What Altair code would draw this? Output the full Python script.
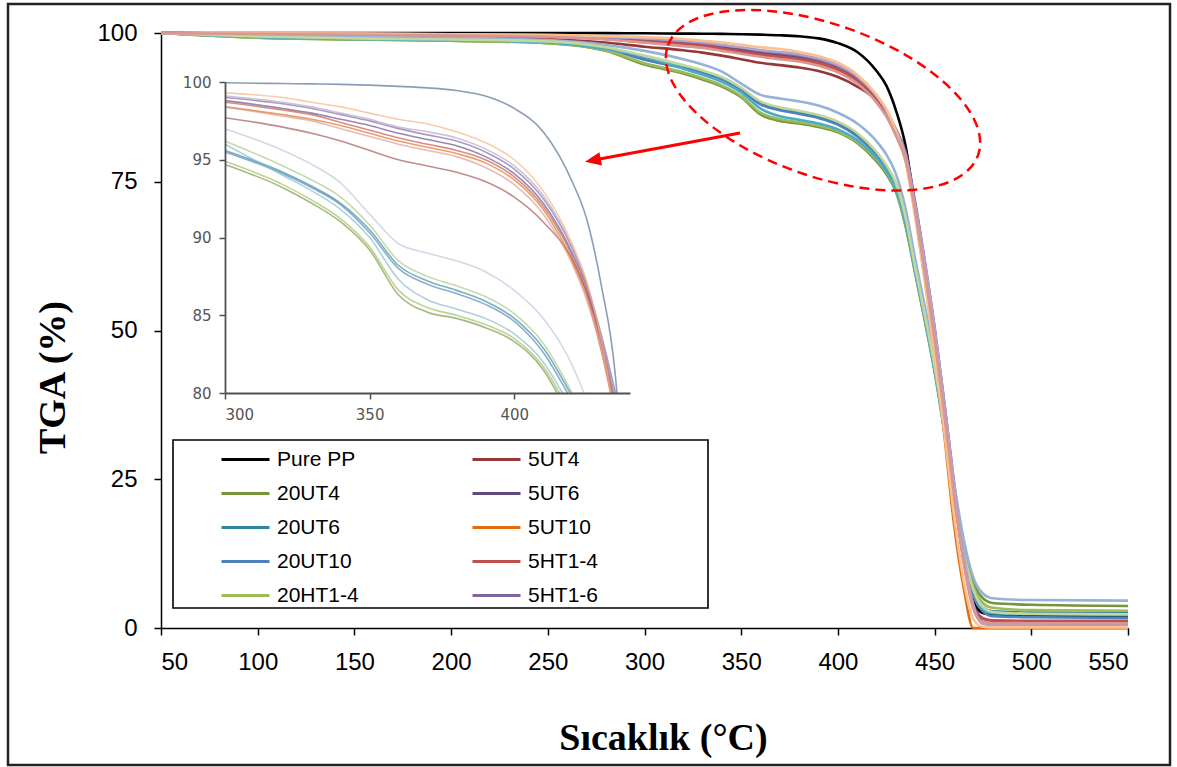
import altair as alt
import pandas as pd

# ---------------- data ----------------
temps = [50, 100, 150, 200, 250, 280, 300, 320, 330, 340, 350, 360, 370, 380, 390,
         400, 410, 420, 425, 430, 435, 440, 445, 450, 455, 460, 465, 470, 475, 480,
         500, 550]

pure_pp  = [100, 100, 100, 100, 100, 99.98, 99.95, 99.9, 99.88, 99.85, 99.8, 99.72, 99.62, 99.45, 99.1,
            98.3, 96.8, 93.6, 91.2, 87.0, 81.0, 70.5, 60.5, 49.5, 37.0, 23.5, 11.5, 4.5, 2.5, 2.2, 2.1, 2.0]
ut4_5    = [100, 99.8, 99.6, 99.4, 99.0, 98.4, 97.7, 97.1, 96.7, 96.2, 95.6, 95.0, 94.6, 94.2, 93.6,
            92.6, 91.0, 88.6, 86.5, 83.5, 79.0, 70.5, 60.5, 49.5, 37.0, 23.5, 12.0, 4.0, 1.6, 1.2, 1.1, 1.0]
ut4_20   = [100, 99.2, 98.9, 98.7, 98.3, 97.0, 94.7, 93.2, 92.2, 91.0, 89.2, 86.3, 85.2, 84.8, 84.2,
            83.3, 81.5, 78.4, 76.3, 73.3, 67.5, 59.5, 51.5, 43.0, 33.0, 22.0, 13.0, 7.6, 5.0, 4.2, 3.9, 3.7]
ut6_5    = [100, 99.9, 99.8, 99.7, 99.5, 99.2, 98.8, 98.3, 98.0, 97.6, 97.2, 96.7, 96.3, 95.9, 95.2,
            94.1, 92.2, 89.0, 86.8, 83.5, 79.5, 71.0, 61.0, 50.0, 37.5, 24.0, 12.0, 3.5, 0.8, 0.5, 0.4, 0.3]
ut6_20   = [100, 99.3, 99.0, 98.8, 98.5, 97.4, 95.6, 94.2, 93.3, 92.2, 90.5, 88.2, 87.2, 86.6, 85.9,
            84.8, 82.9, 79.8, 77.6, 74.6, 68.8, 60.3, 52.3, 43.8, 33.8, 22.5, 12.8, 6.5, 3.5, 2.8, 2.6, 2.5]
ut10_5   = [100, 99.9, 99.8, 99.6, 99.4, 99.0, 98.4, 97.9, 97.6, 97.2, 96.7, 96.2, 95.8, 95.4, 94.8,
            93.7, 91.8, 88.5, 86.2, 82.8, 78.5, 69.5, 58.5, 46.5, 32.5, 17.5, 6.8, 0.0, 0.0, 0.0, 0.0, 0.0]
ut10_20  = [100, 99.3, 99.0, 98.8, 98.5, 97.4, 95.5, 94.1, 93.2, 92.1, 90.3, 88.0, 87.0, 86.4, 85.7,
            84.6, 82.6, 79.5, 77.3, 74.3, 68.5, 60.0, 52.0, 43.5, 33.5, 22.0, 12.3, 5.8, 2.8, 2.0, 1.8, 1.7]
ht14_5   = [100, 99.9, 99.8, 99.7, 99.5, 99.1, 98.7, 98.2, 97.9, 97.4, 96.9, 96.4, 96.0, 95.6, 95.0,
            93.9, 92.0, 88.8, 86.5, 83.2, 79.0, 70.5, 60.0, 49.0, 36.5, 23.0, 11.5, 3.8, 1.6, 1.3, 1.2, 1.2]
ht14_20  = [100, 99.2, 98.9, 98.7, 98.3, 97.1, 94.9, 93.4, 92.4, 91.2, 89.4, 86.6, 85.5, 85.0, 84.4,
            83.5, 81.7, 78.7, 76.6, 73.6, 67.8, 59.8, 51.8, 43.3, 33.3, 22.0, 12.8, 7.0, 4.2, 3.4, 3.0, 2.9]
ht16_5   = [100, 99.9, 99.85, 99.75, 99.6, 99.3, 99.0, 98.6, 98.3, 97.9, 97.5, 97.0, 96.6, 96.2, 95.5,
            94.4, 92.5, 89.3, 87.0, 83.8, 80.0, 71.5, 61.5, 50.5, 38.0, 24.5, 12.5, 4.0, 1.0, 0.7, 0.6, 0.6]
# further curves drawn in the figure but not listed in its legend
seri_11  = [100, 99.6, 99.4, 99.2, 98.8, 98.0, 97.0, 95.6, 94.7, 93.5, 91.5, 89.6, 89.0, 88.5, 87.8,
            86.6, 84.8, 81.8, 79.6, 76.3, 70.5, 62.0, 54.0, 45.5, 35.5, 24.5, 15.0, 8.5, 5.8, 5.0, 4.7, 4.6]
seri_12  = [100, 99.3, 99.0, 98.8, 98.4, 97.3, 96.0, 94.0, 93.0, 91.8, 90.0, 87.3, 86.0, 85.4, 84.8,
            83.8, 82.0, 79.0, 76.8, 73.8, 68.0, 59.8, 51.8, 43.3, 33.3, 22.3, 12.8, 6.3, 3.2, 2.5, 2.3, 2.2]
seri_13  = [100, 99.4, 99.1, 98.9, 98.6, 97.6, 96.2, 94.6, 93.7, 92.6, 90.8, 88.5, 87.5, 86.9, 86.2,
            85.1, 83.2, 80.0, 77.8, 74.8, 69.0, 60.5, 52.5, 44.0, 34.0, 22.5, 12.8, 6.5, 3.5, 2.7, 2.4, 2.3]
seri_14  = [100, 99.9, 99.85, 99.75, 99.6, 99.35, 99.1, 98.7, 98.4, 98.0, 97.6, 97.1, 96.8, 96.4, 95.7,
            94.6, 92.7, 89.4, 87.0, 83.6, 79.5, 71.0, 61.5, 50.5, 38.0, 24.5, 12.5, 3.8, 0.7, 0.5, 0.45, 0.4]
seri_15  = [100, 99.95, 99.9, 99.8, 99.7, 99.5, 99.3, 99.0, 98.7, 98.4, 98.0, 97.6, 97.3, 96.8, 96.1,
            95.0, 93.0, 89.6, 87.2, 83.5, 78.5, 69.0, 58.0, 46.0, 33.0, 19.0, 8.0, 1.5, 0.2, 0.1, 0.1, 0.1]
seri_16  = [100, 99.85, 99.7, 99.6, 99.35, 98.9, 98.4, 97.8, 97.5, 97.0, 96.5, 96.0, 95.6, 95.2, 94.5,
            93.4, 91.5, 88.3, 86.0, 82.8, 78.8, 70.0, 59.5, 48.5, 36.0, 22.5, 11.0, 3.2, 1.0, 0.85, 0.8, 0.8]

# legend read row by row: Pure PP | 5UT4 ; 20UT4 | 5UT6 ; ...
legend_names = ["Pure PP", "5UT4", "20UT4", "5UT6", "20UT6",
                "5UT10", "20UT10", "5HT1-4", "20HT1-4", "5HT1-6"]
extra_names = ["Seri 11", "Seri 12", "Seri 13", "Seri 14", "Seri 15", "Seri 16"]
series_names = legend_names + extra_names
series_values = [pure_pp, ut4_5, ut4_20, ut6_5, ut6_20, ut10_5, ut10_20, ht14_5, ht14_20, ht16_5,
                 seri_11, seri_12, seri_13, seri_14, seri_15, seri_16]

main_colors = ["#000000", "#953735", "#77933C", "#604A7B", "#31859C",
               "#E46C0A", "#4F81BD", "#C0504D", "#9BBB59", "#8064A2",
               "#95B3D7", "#4BACC6", "#C3D69B", "#B3A2C7", "#FAC090", "#D99694"]
inset_colors = ["#4A6890", "#A0504E", "#77933C", "#604A7B", "#31859C",
                "#E46C0A", "#4F81BD", "#C0504D", "#9BBB59", "#8064A2",
                "#B9C6DC", "#7FB9CC", "#A9C47F", "#B3A2C7", "#F5B07A", "#D99694"]

inset_x_range = [300, 440]
inset_y_range = [80, 100]

# annotation anchors (data coordinates)
ellipse_center = (392.3, 88.7)
arrow_from = (349.4, 83.2)
arrow_to = (273.3, 78.6)

# ---------------- tables ----------------
# the legend grid fills column by column, so list its entries in that order
legend_cols = 2
legend_rows = len(legend_names) // legend_cols
legend_order = [legend_names[r * legend_cols + c] for c in range(legend_cols)
                for r in range(legend_rows)]

rows = []
for i, (name, vals) in enumerate(zip(series_names, series_values)):
    for t, v in zip(temps, vals):
        rows.append({"series": name, "order": i, "T": t, "TGA": v})
df = pd.DataFrame(rows)

# inset: same curves cut where they leave the zoom window
inset_rows = []
for name, vals in zip(series_names, series_values):
    prev = None
    for t, v in zip(temps, vals):
        if t < inset_x_range[0]:
            continue
        if t > inset_x_range[1]:
            break
        if v < inset_y_range[0]:
            if prev is not None:
                pt, pv = prev
                tc = pt + (pv - inset_y_range[0]) / (pv - v) * (t - pt)
                inset_rows.append({"series": name, "T": tc, "TGA": inset_y_range[0]})
            break
        inset_rows.append({"series": name, "T": t, "TGA": v})
        prev = (t, v)
inset_df = pd.DataFrame(inset_rows)

W, H = 967, 595
one = pd.DataFrame({"a": [0]})

# ---------------- main chart ----------------
x_main = alt.X("T:Q",
               scale=alt.Scale(domain=[50, 550], nice=False, zero=False),
               axis=alt.Axis(values=list(range(50, 551, 50)), grid=False, tickSize=7,
                             tickWidth=1.5, domainWidth=1.5, domainColor="black",
                             tickColor="black", labelColor="black",
                             labelFont="Liberation Sans", labelFontSize=24, labelPadding=15,
                             title="Sıcaklık (°C)", titleFont="Liberation Serif",
                             titleFontSize=38, titleFontWeight="bold", titleColor="black",
                             titleX=502, titleY=121, titleAlign="center",
                             titleBaseline="alphabetic"))
y_main = alt.Y("TGA:Q",
               scale=alt.Scale(domain=[0, 100], nice=False, zero=False),
               axis=alt.Axis(values=[0, 25, 50, 75, 100], grid=False, tickSize=7,
                             tickWidth=1.5, domainWidth=1.5, domainColor="black",
                             tickColor="black", labelColor="black",
                             labelFont="Liberation Sans", labelFontSize=24, labelPadding=17,
                             title="TGA (%)", titleFont="Liberation Serif",
                             titleFontSize=38, titleFontWeight="bold", titleColor="black",
                             titleAngle=270, titleX=-97, titleY=344, titleAlign="center",
                             titleBaseline="alphabetic"))

main_lines = alt.Chart(df).mark_line(strokeWidth=2.6, interpolate="monotone").encode(
    x=x_main,
    y=y_main,
    color=alt.Color("series:N",
                    scale=alt.Scale(domain=series_names, range=main_colors),
                    legend=alt.Legend(values=legend_order, orient="none",
                                      legendX=59, legendY=416, columns=legend_cols,
                                      columnPadding=112, rowPadding=12, clipHeight=21,
                                      symbolType="stroke", symbolSize=2304,
                                      symbolStrokeWidth=3, labelFont="Liberation Sans",
                                      labelFontSize=21, labelColor="black",
                                      labelOffset=6, padding=0, title=None)),
)

frame = alt.Chart(one).mark_rect(fill=None, stroke="#222222", strokeWidth=2.5).encode(
    x=alt.value(-153), x2=alt.value(1009), y=alt.value(-29), y2=alt.value(732))
legend_box = alt.Chart(one).mark_rect(fill=None, stroke="black", strokeWidth=1.6).encode(
    x=alt.value(12), x2=alt.value(547), y=alt.value(407), y2=alt.value(575))

ell_b = 0.462
k = 0.5523
ellipse_path = (f"M -1 0 C -1 {-k*ell_b:.4f} {-k:.4f} {-ell_b} 0 {-ell_b} "
                f"C {k:.4f} {-ell_b} 1 {-k*ell_b:.4f} 1 0 "
                f"C 1 {k*ell_b:.4f} {k:.4f} {ell_b} 0 {ell_b} "
                f"C {-k:.4f} {ell_b} -1 {k*ell_b:.4f} -1 0 Z")
ellipse = alt.Chart(pd.DataFrame({"T": [ellipse_center[0]], "TGA": [ellipse_center[1]]})).mark_point(
    shape=ellipse_path, size=329 ** 2, angle=19.5, filled=False, color="#FF0000",
    strokeWidth=2.5, strokeDash=[10, 6], opacity=1).encode(x="T:Q", y="TGA:Q")

arrow = alt.Chart(pd.DataFrame({"T": [arrow_from[0]], "TGA": [arrow_from[1]],
                                "T2": [arrow_to[0]], "TGA2": [arrow_to[1]]})).mark_rule(
    color="#FF0000", strokeWidth=3).encode(x="T:Q", y="TGA:Q", x2="T2:Q", y2="TGA2:Q")
head = alt.Chart(pd.DataFrame({"T": [arrow_to[0]], "TGA": [arrow_to[1]]})).mark_point(
    shape="M 1 0 L -1 -0.85 L -1 0.85 Z", size=256, angle=169, filled=True,
    color="#FF0000", opacity=1).encode(x="T:Q", y="TGA:Q")

main_layer = alt.layer(frame, legend_box, main_lines, ellipse, arrow, head)

# ---------------- inset ----------------
inset = alt.Chart(inset_df).mark_line(strokeWidth=1.6, opacity=0.65, interpolate="monotone").encode(
    x=alt.X("T:Q", scale=alt.Scale(domain=inset_x_range, range=[64, 469], nice=False, zero=False),
            axis=alt.Axis(orient="bottom", offset=-235, values=[300, 350, 400], grid=False,
                          tickSize=6, tickWidth=1.5, domainWidth=1.8, domainColor="#505050",
                          tickColor="#505050", labelColor="#555555", labelFont="DejaVu Sans",
                          labelFontSize=15, labelPadding=8, title=None, zindex=1)),
    y=alt.Y("TGA:Q", scale=alt.Scale(domain=inset_y_range, range=[360, 49], nice=False, zero=False),
            axis=alt.Axis(orient="left", offset=-64, values=[80, 85, 90, 95, 100], grid=False,
                          tickSize=6, tickWidth=1.5, domainWidth=1.8, domainColor="#505050",
                          tickColor="#505050", labelColor="#555555", labelFont="DejaVu Sans",
                          labelFontSize=15, labelPadding=8, title=None, zindex=1)),
    color=alt.Color("series:N", scale=alt.Scale(domain=series_names, range=inset_colors),
                    legend=None),
)

chart = alt.layer(main_layer, inset).resolve_scale(
    x="independent", y="independent", color="independent"
).resolve_axis(x="independent", y="independent").properties(
    width=W, height=H, autosize="none",
    padding={"left": 161, "top": 33, "right": 1177 - 161 - W, "bottom": 767 - 33 - H},
    background="white",
).configure_view(stroke=None)

chart.save("out.html", embed_options={"renderer": "svg", "actions": False})
